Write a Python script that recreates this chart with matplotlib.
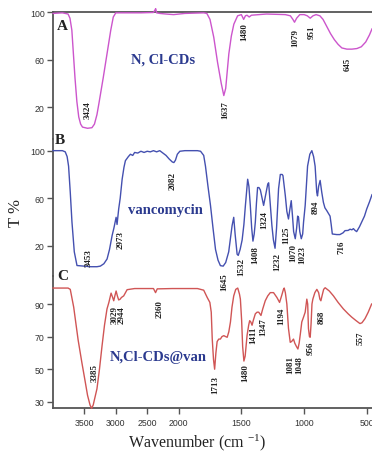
import numpy as np
import matplotlib
matplotlib.use("Agg")
import matplotlib.pyplot as plt

plt.rcParams['mathtext.fontset'] = 'custom'
plt.rcParams['mathtext.rm'] = 'Liberation Serif'
plt.rcParams['mathtext.it'] = 'Liberation Serif:italic'

# ---------------- data ----------------
wA = [4000, 3850, 3760, 3730, 3700, 3675, 3650, 3620, 3590, 3560, 3530, 3450, 3380, 3340,
      3300, 3270, 3200, 3140, 3080, 3040, 3000, 2900, 2600, 2400, 2375, 2365, 2350, 2300,
      2200, 2080, 1950, 1800, 1775, 1750, 1720, 1690, 1660, 1640, 1625, 1600, 1580, 1560,
      1530, 1500, 1482, 1468, 1455, 1438, 1420, 1300, 1150, 1110, 1090, 1077, 1060, 1035,
      1000, 975, 952, 930, 905, 875, 850, 820, 790, 760, 730, 700, 660, 620, 580, 545,
      510, 480, 460]
TA = [99, 99.5, 98.5, 95, 85, 65, 45, 25, 12, 6, 3.5, 2.5, 3, 6,
      14, 23, 45, 65, 85, 96, 99.5, 99.5, 99.5, 99.8, 102, 103, 99.5, 99,
      98.5, 98, 99, 99.5, 99, 94, 79, 58, 40, 30, 36, 65, 80, 90,
      97, 98, 94, 97, 97.5, 96, 97.5, 98.5, 98, 97, 94, 91.6, 95, 98,
      98, 97, 95, 97, 98, 97, 94, 88, 82, 77, 73, 70, 69, 69, 69.5, 71,
      75, 81, 86]

wB = [4000, 3850, 3805, 3775, 3752, 3725, 3698, 3661, 3618, 3500, 3400, 3300, 3246, 3190,
      3139, 3100, 3059, 3030, 3010, 2995, 2980, 2965, 2954, 2930, 2899, 2870, 2847, 2800,
      2767, 2730, 2700, 2650, 2600, 2550, 2500, 2450, 2400, 2350, 2300, 2250, 2200, 2150,
      2100, 2075, 2050, 2020, 1990, 1950, 1850, 1825, 1800, 1786, 1766, 1746, 1726, 1706,
      1686, 1667, 1645, 1625, 1601, 1585, 1574, 1561, 1550, 1534, 1525, 1510, 1494, 1480,
      1468, 1450, 1440, 1429, 1418, 1408, 1398, 1389, 1380, 1371, 1360, 1349, 1335, 1323,
      1305, 1290, 1283, 1275, 1257, 1245, 1232, 1220, 1204, 1190, 1175, 1169, 1150, 1138,
      1125, 1115, 1103, 1093, 1084, 1071, 1060, 1052, 1045, 1035, 1023, 1012, 1005, 992,
      980, 973, 955, 939, 925, 913, 900, 894, 885, 873, 860, 847, 835, 820, 805, 794,
      785, 776, 741, 716, 690, 675, 650, 635, 620, 608, 595, 582, 560, 542, 520, 502,
      480, 460]
TB = [100, 100, 99, 95, 87, 65, 40, 15, 3.5, 3, 2.5, 2.5, 3, 5,
      9, 17, 28.6, 35, 40, 44, 38, 46, 51, 60, 76, 86, 91.6, 95,
      97, 96, 98.5, 98, 99.5, 98.5, 99.5, 99, 100, 99, 100, 98, 96, 93,
      90.5, 90, 92, 97, 99.5, 100, 100, 99.5, 96, 87, 70, 54, 35, 17,
      8, 3.4, 3, 6, 15, 28, 37, 44, 30, 13, 12, 17, 25, 38,
      54, 76, 70, 54, 35, 24, 30, 40, 56, 69, 69, 67, 60, 54,
      64, 72, 73, 62, 37, 25, 18, 35, 68, 80, 80, 79, 62, 49,
      42.6, 50, 58, 45, 32, 26, 35, 45, 44, 32, 26, 30, 40, 54,
      75, 87, 97, 100, 95, 87, 65, 62, 70, 75, 65, 56.6, 52, 49.6, 47, 45,
      38, 30, 29.5, 29.5, 31, 32.8, 33, 34, 33.5, 34.5, 33, 32, 36, 40, 45, 51,
      57, 63]

wC = [4000, 3760, 3725, 3700, 3670, 3645, 3600, 3540, 3490, 3450, 3410, 3385, 3360, 3330,
      3300, 3260, 3220, 3180, 3140, 3110, 3075, 3050, 3033, 3015, 2995, 2975, 2954, 2930,
      2911, 2874, 2820, 2700, 2500, 2400, 2367, 2340, 2100, 1850, 1800, 1772, 1751, 1740,
      1732, 1722, 1713, 1703, 1693, 1680, 1667, 1655, 1640, 1625, 1613, 1600, 1587, 1575,
      1561, 1545, 1529, 1515, 1508, 1498, 1490, 1480, 1470, 1455, 1442, 1434, 1425, 1415,
      1405, 1389, 1375, 1362, 1344, 1330, 1310, 1290, 1270, 1244, 1217, 1196, 1180, 1165,
      1159, 1150, 1138, 1125, 1111, 1100, 1085, 1075, 1062, 1050, 1040, 1030, 1019, 1005,
      992, 979, 972, 966, 958, 952, 945, 938, 931, 915, 899, 885, 875, 867, 858, 845,
      833, 800, 767, 730, 688, 650, 622, 590, 556, 540, 516, 490, 463]
TC = [99.8, 99.8, 99, 94, 88, 80.8, 68, 54, 43, 34, 28, 26, 28, 33,
      38, 50, 64, 77, 87, 91, 96.7, 94, 92, 95, 98, 95, 92.5, 93,
      94, 95, 98.8, 99.5, 99.5, 99.5, 97, 99.3, 99.5, 99.5, 98.5, 94, 91, 85,
      68.5, 56, 50, 60, 67, 68.5, 68.5, 70, 70.6, 70, 69.6, 73, 79, 88,
      95, 99, 99.8, 96, 93, 80, 64, 55, 58, 70.6, 77, 79.8, 79, 77,
      80, 84, 85, 85, 83, 87, 92, 95, 97, 97, 94, 91, 95, 99,
      99.8, 97, 90, 75, 66.5, 67, 68.5, 66, 64, 62.4, 66, 72, 79, 82,
      85, 93, 90, 75, 70, 69.6, 78, 90, 93, 97, 99, 97, 93, 92, 95, 99,
      100, 98, 95, 91, 87, 84, 82, 80, 78, 78.5, 81, 85, 90]

# peak labels: (text, x position [cm-1], y position [T %])
peaksA = [("3424", 3449, 18.7), ("1637", 1627, 18.7), ("1480", 1476, 84.3),
          ("1079", 1071, 79), ("951", 937, 84), ("645", 651, 57.4)]
peaksB = [("3453", 3438, 10.7), ("2973", 2927, 25.8), ("2082", 2096, 75.4),
          ("1645", 1635, -9.5), ("1532", 1500, 3.1), ("1408", 1389, 13.2),
          ("1324", 1317, 42.6), ("1232", 1214, 7.3), ("1125", 1143, 30),
          ("1070", 1087, 14.9), ("1023", 1016, 13.2), ("894", 905, 53.5),
          ("716", 706, 20)]
peaksC = [("3385", 3342, 48.3), ("3029", 3022, 83.9), ("2944", 2911, 83.9),
          ("2360", 2304, 87.5), ("1713", 1706, 41), ("1480", 1468, 48.3),
          ("1411", 1405, 71.6), ("1347", 1325, 76.5), ("1194", 1183, 83.3),
          ("1081", 1111, 53.2), ("1048", 1040, 53.2), ("956", 944, 63.6),
          ("868", 857, 82.6), ("557", 548, 69.8)]

names = ["N, Cl-CDs", "vancomycin", "N,Cl-CDs@van"]
letters = ["A", "B", "C"]
xticks = [3500, 3000, 2500, 2000, 1500, 1000, 500]
yticksA = [20, 60, 100]
yticksB = [20, 60, 100]
yticksC = [30, 50, 70, 90]

# ---------------- styling ----------------
colA, colB, colC = '#cc55cc', '#4450b0', '#d05555'
navy = '#2b3a8f'
spine_col = '#555555'
SERIF = 'Liberation Serif'
SANS = 'Liberation Sans'


def fwd(x):
    x = np.asarray(x, dtype=float)
    return np.where(x > 2000, 2000 + (x - 2000) / 2.0, x)


def inv(t):
    t = np.asarray(t, dtype=float)
    return np.where(t > 2000, 2000 + (t - 2000) * 2.0, t)


H = 452.0
W = 372.0
L = 53 / W
fig = plt.figure(figsize=(3.72, 4.52), dpi=100)
axA = fig.add_axes([L, 1 - 140 / H, 1 - L, 127 / H])
axB = fig.add_axes([L, 1 - 277 / H, 1 - L, 137 / H])
axC = fig.add_axes([L, 1 - 409 / H, 1 - L, 132 / H])

axes = [axA, axB, axC]
data = [(wA, TA, colA), (wB, TB, colB), (wC, TC, colC)]
ylims = [(-6.5, 100.2), (-5.3, 109.8), (26.2, 107.2)]
yticks = [yticksA, yticksB, yticksC]

for ax, (w, t, c), yl, yt in zip(axes, data, ylims, yticks):
    ax.set_xscale('function', functions=(fwd, inv))
    ax.plot(w, t, color=c, lw=1.0, clip_on=False, zorder=3)
    ax.set_xlim(4000, 460)
    ax.set_ylim(*yl)
    ax.set_yticks(yt)
    ax.set_yticklabels([str(v) for v in yt], fontsize=6.3, family=SANS, color='#333333')
    ax.tick_params(axis='y', direction='out', length=4, width=1, color=spine_col, pad=2)
    ax.spines['right'].set_visible(False)
    ax.spines['left'].set_color(spine_col)
    ax.spines['left'].set_linewidth(1.3)
    ax.patch.set_alpha(0)
    for s in ['top', 'bottom']:
        ax.spines[s].set_color(spine_col)
        ax.spines[s].set_linewidth(1.3)

axA.spines['bottom'].set_visible(False)
axB.spines['top'].set_visible(False)
axB.spines['bottom'].set_visible(False)
axC.spines['top'].set_visible(False)
for ax in (axA, axB):
    ax.tick_params(axis='x', bottom=False, labelbottom=False, top=False)
axC.set_xticks(xticks)
axC.set_xticklabels([str(v) for v in xticks], fontsize=6.3, family=SANS, color='#333333')
axC.tick_params(axis='x', direction='out', length=4, width=1, color=spine_col, pad=3)
axC.minorticks_off()
axA.minorticks_off()
axB.minorticks_off()

for ax, peaks in zip(axes, [peaksA, peaksB, peaksC]):
    for txt, x, y in peaks:
        ax.text(x, y, txt, rotation=90, ha='center', va='center', fontsize=6.5,
                fontweight='bold', family=SERIF, color='#222222', clip_on=False, zorder=5)

# panel names
axA.text(2240, 60.8, names[0], ha='center', va='center', fontsize=10.5,
         fontweight='bold', family=SERIF, color=navy)
axB.text(2208, 50.2, names[1], ha='center', va='center', fontsize=10.5,
         fontweight='bold', family=SERIF, color=navy)
axC.text(2319, 58.1, names[2], ha='center', va='center', fontsize=10.5,
         fontweight='bold', family=SERIF, color=navy)

# panel letters
axA.text(3853, 88.5, letters[0], ha='center', va='center', fontsize=11,
         fontweight='bold', family=SERIF, color='#222222')
axB.text(3885, 109, letters[1], ha='center', va='center', fontsize=11,
         fontweight='bold', family=SERIF, color='#222222', clip_on=False)
axC.text(3837, 107.4, letters[2], ha='center', va='center', fontsize=11,
         fontweight='bold', family=SERIF, color='#222222', clip_on=False)

fig.text(16 / W, 1 - 213 / H, 'T %', rotation=90, ha='center', va='center',
         fontsize=12, family=SERIF, color='#222222')
fig.text(197 / W, 1 - 443 / H, r'Wavenumber (cm $^{-1}$)', ha='center', va='center',
         fontsize=11.5, family=SERIF, color='#222222')

fig.savefig('out.png', dpi=100)
